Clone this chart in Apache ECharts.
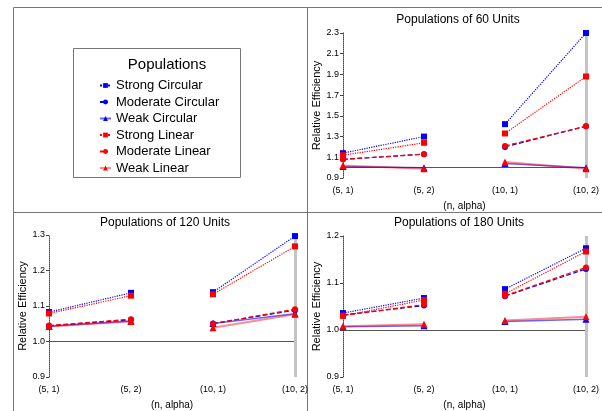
<!DOCTYPE html>
<html>
<head>
<meta charset="utf-8">
<script src="https://cdn.jsdelivr.net/npm/echarts@6/dist/echarts.min.js"></script>
<style>
  html, body { margin: 0; padding: 0; background: #fff; }
  #main { width: 602px; height: 411px; }
</style>
</head>
<body>
<div id="main"></div>
<script>
var categories = ['(5, 1)', '(5, 2)', '(10, 1)', '(10, 2)'];
var seriesNames = ['Strong Circular', 'Moderate Circular', 'Weak Circular',
                   'Strong Linear', 'Moderate Linear', 'Weak Linear'];

// populations of 60 units
var p60_strongCirc = [1.14, 1.30, 1.42, 2.30];
var p60_modCirc    = [1.08, 1.13, 1.20, 1.40];
var p60_weakCirc   = [1.01, 1.00, 1.04, 1.00];
var p60_strongLin  = [1.12, 1.24, 1.33, 1.88];
var p60_modLin     = [1.08, 1.13, 1.21, 1.40];
var p60_weakLin    = [1.02, 0.99, 1.055, 0.99];

// populations of 120 units
var p120_strongCirc = [1.083, 1.137, 1.139, 1.297];
var p120_modCirc    = [1.044, 1.061, 1.051, 1.088];
var p120_weakCirc   = [1.043, 1.058, 1.051, 1.078];
var p120_strongLin  = [1.079, 1.129, 1.133, 1.268];
var p120_modLin     = [1.045, 1.063, 1.050, 1.091];
var p120_weakLin    = [1.042, 1.056, 1.039, 1.077];

// populations of 180 units
var p180_strongCirc = [1.036, 1.068, 1.087, 1.174];
var p180_modCirc    = [1.032, 1.052, 1.072, 1.130];
var p180_weakCirc   = [1.007, 1.009, 1.018, 1.023];
var p180_strongLin  = [1.030, 1.064, 1.077, 1.167];
var p180_modLin     = [1.031, 1.054, 1.073, 1.133];
var p180_weakLin    = [1.008, 1.012, 1.020, 1.028];

var yTicks60 = [0.9, 2.3, 0.2];
var yTicks120 = [0.9, 1.3, 0.1];
var yTicks180 = [0.9, 1.2, 0.1];

var FONT = 'Liberation Sans';
var BLUE = '#0000ff', RED = '#ff0000';

// lines break between (5, 2) and (10, 1)
function pts(vals) {
  return [[0, vals[0]], [1, vals[1]], [1.5, '-'], [2, vals[2]], [3, vals[3]]];
}

var styles = [
  { color: BLUE, type: 'dotted', sym: 'rect', size: 6, width: 1.2, op: 1 },
  { color: BLUE, type: 'dashed', sym: 'circle', size: 6, width: 1.2, op: 1 },
  { color: BLUE, type: 'solid', sym: 'triangle', size: 7, width: 1.5, op: 0.6 },
  { color: RED, type: 'dotted', sym: 'rect', size: 6, width: 1.2, op: 1 },
  { color: RED, type: 'dashed', sym: 'circle', size: 6, width: 1.2, op: 1 },
  { color: RED, type: 'solid', sym: 'triangle', size: 7, width: 2, op: 0.45 }
];

var panels = [
  { title: 'Populations of 60 Units', left: 343, top: 33, height: 145, titleX: 453, titleY: 9,
    ticks: yTicks60,
    data: [p60_strongCirc, p60_modCirc, p60_weakCirc, p60_strongLin, p60_modLin, p60_weakLin] },
  { title: 'Populations of 120 Units', left: 49, top: 235, height: 145, titleX: 160, titleY: 212,
    ticks: yTicks120,
    data: [p120_strongCirc, p120_modCirc, p120_weakCirc, p120_strongLin, p120_modLin, p120_weakLin] },
  { title: 'Populations of 180 Units', left: 343, top: 236, height: 144, titleX: 454, titleY: 212,
    ticks: yTicks180,
    data: [p180_strongCirc, p180_modCirc, p180_weakCirc, p180_strongLin, p180_modLin, p180_weakLin] }
];

var titles = [{
  text: 'Populations', left: 162, top: 52, textAlign: 'center',
  textStyle: { fontFamily: FONT, fontSize: 15, fontWeight: 'normal', color: '#000' }
}];
var grids = [], xAxes = [], yAxes = [], series = [];

panels.forEach(function (p, gi) {
  titles.push({
    text: p.title, left: p.titleX, top: p.titleY, textAlign: 'center',
    textStyle: { fontFamily: FONT, fontSize: 12, fontWeight: 'normal', color: '#000' }
  });
  grids.push({ left: p.left, top: p.top, width: 246, height: p.height });
  xAxes.push({
    type: 'value', gridIndex: gi, min: 0, max: 3, interval: 1,
    name: '(n, alpha)', nameLocation: 'middle', nameGap: 23,
    nameTextStyle: { fontFamily: FONT, fontSize: 10, color: '#000' },
    axisLine: { show: false }, axisTick: { show: false }, splitLine: { show: false },
    axisLabel: {
      fontFamily: FONT, fontSize: 9, color: '#000', margin: 8,
      formatter: function (v) { return categories[v]; }
    }
  });
  yAxes.push({
    type: 'value', gridIndex: gi, min: p.ticks[0], max: p.ticks[1], interval: p.ticks[2],
    name: 'Relative Efficiency', nameLocation: 'middle', nameGap: 21, nameRotate: 90,
    nameTextStyle: { fontFamily: FONT, fontSize: 11, color: '#000' },
    axisLine: { show: true, lineStyle: { color: '#444', type: 'dotted', width: 1 } },
    axisTick: { show: true, length: 3, lineStyle: { color: '#444' } },
    splitLine: { show: false },
    axisLabel: {
      fontFamily: FONT, fontSize: 9, color: '#000', margin: 4,
      formatter: function (v) { return v.toFixed(1); }
    }
  });
  p.data.forEach(function (vals, si) {
    var s = styles[si];
    var ser = {
      type: 'line', name: seriesNames[si], xAxisIndex: gi, yAxisIndex: gi,
      data: pts(vals), connectNulls: false,
      symbol: s.sym, symbolSize: s.size, showSymbol: true,
      itemStyle: { color: s.color },
      lineStyle: { color: s.color, type: s.type, width: s.width, opacity: s.op },
      z: 3 + si, animation: false
    };
    if (si === 0) {
      ser.markLine = {
        silent: true, symbol: 'none', label: { show: false }, animation: false,
        data: [
          { yAxis: 1.0, lineStyle: { color: '#555', type: 'solid', width: 1 } },
          { xAxis: 3, lineStyle: { color: '#c4c4c4', type: 'solid', width: 3 } }
        ]
      };
      ser.markLine.z = 1;
    }
    series.push(ser);
  });
});

var myChart = echarts.init(document.getElementById('main'));
var option = {
  backgroundColor: '#fff',
  animation: false,
  title: titles,
  legend: {
    data: seriesNames, orient: 'vertical', left: 99, top: 79, padding: 0,
    itemWidth: 11, itemHeight: 6, itemGap: 3.5,
    textStyle: { fontFamily: FONT, fontSize: 13, color: '#000' },
    selectedMode: false
  },
  grid: grids,
  xAxis: xAxes,
  yAxis: yAxes,
  series: series,
  graphic: [
    { type: 'line', shape: { x1: 13.5, y1: 7.5, x2: 602, y2: 7.5 }, style: { stroke: '#777', lineWidth: 1 } },
    { type: 'line', shape: { x1: 13.5, y1: 7.5, x2: 13.5, y2: 411 }, style: { stroke: '#777', lineWidth: 1 } },
    { type: 'line', shape: { x1: 307.5, y1: 7.5, x2: 307.5, y2: 411 }, style: { stroke: '#777', lineWidth: 1 } },
    { type: 'line', shape: { x1: 13.5, y1: 212.5, x2: 602, y2: 212.5 }, style: { stroke: '#777', lineWidth: 1 } },
    { type: 'rect', shape: { x: 73.5, y: 48.5, width: 167, height: 129 }, style: { fill: 'none', stroke: '#777', lineWidth: 1 } }
  ]
};
myChart.setOption(option);
</script>
</body>
</html>
